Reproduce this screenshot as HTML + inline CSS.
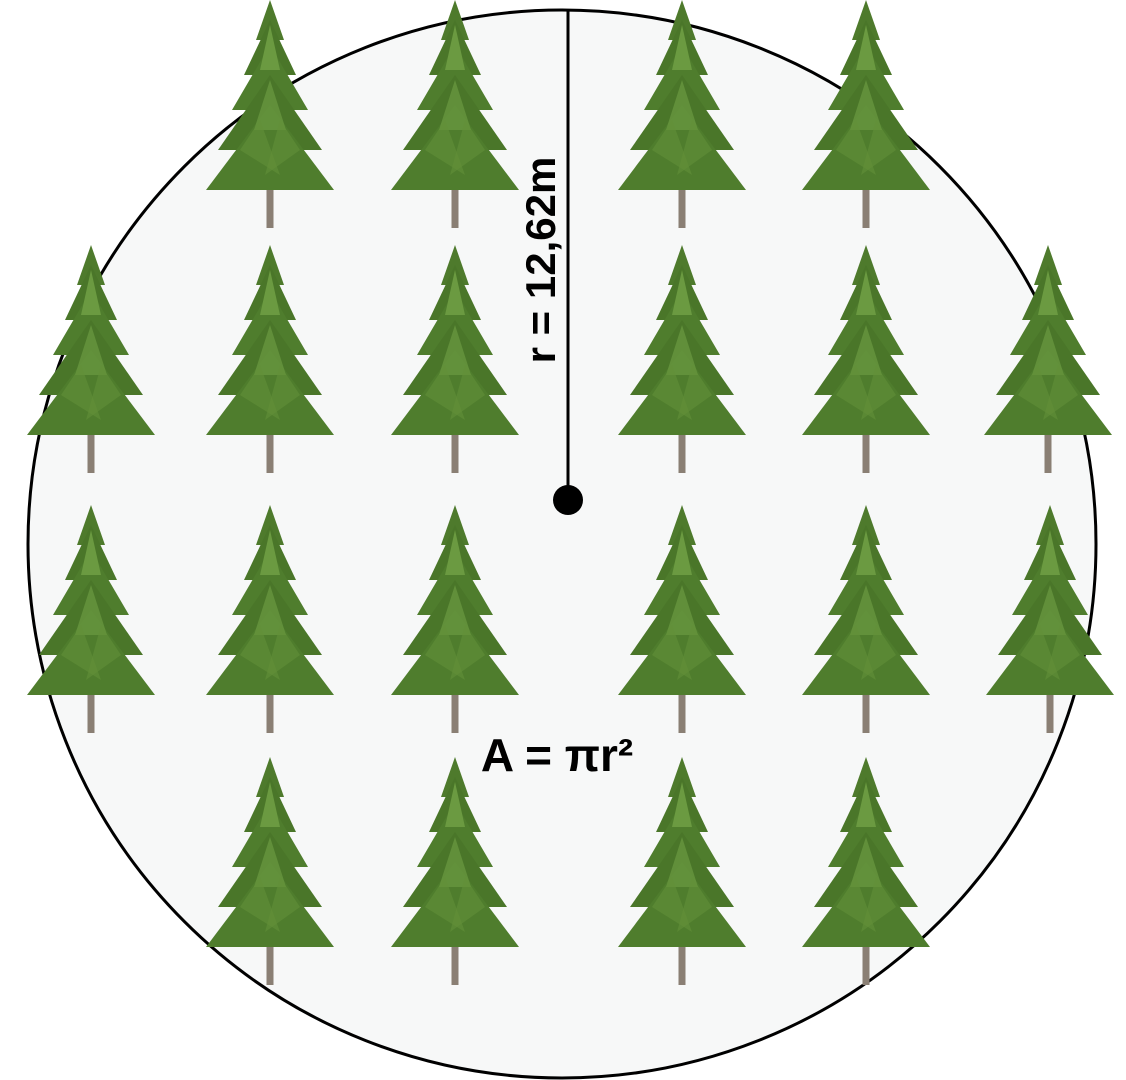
<!DOCTYPE html>
<html><head><meta charset="utf-8"><style>
html,body{margin:0;padding:0;background:#fff;width:1126px;height:1080px;overflow:hidden}
svg{display:block}
</style></head><body>
<svg id="s" width="1126" height="1080" viewBox="0 0 1126 1080">
<defs>
<g id="tree">
<rect x="-3.5" y="170" width="7" height="58" fill="#8a7f74"/>
<polygon points="0,0 -14,40 14,40" fill="#4e7a2c"/>
<polygon points="0,20 -26,75 26,75" fill="#4a7629"/>
<polygon points="0,45 -38,110 38,110" fill="#4f7d2d"/>
<polygon points="0,75 -52,150 52,150" fill="#4a7629"/>
<polygon points="0,105 -64,190 64,190" fill="#4f7d2d"/>
<polygon points="0,25 -10,70 10,70" fill="#6b9a41"/>
<polygon points="0,80 -16,130 16,130" fill="#6b9a41" opacity="0.7"/>
<polygon points="-30,150 -10,120 10,175" fill="#628f39" opacity="0.6"/>
<polygon points="30,150 10,120 -5,175" fill="#628f39" opacity="0.6"/>
</g>
</defs>
<circle cx="562" cy="544" r="534" fill="#f7f8f8" stroke="#000" stroke-width="3"/>
<g id="trees"></g>
<line x1="568" y1="10" x2="568" y2="500" stroke="#000" stroke-width="3"/>
<circle cx="568" cy="500" r="15" fill="#000"/>
<text transform="translate(555,260) rotate(-90)" text-anchor="middle" font-family="Liberation Sans, sans-serif" font-weight="bold" font-size="42" fill="#000">r = 12,62m</text>
<text x="557" y="771" text-anchor="middle" font-family="Liberation Sans, sans-serif" font-weight="bold" font-size="46" fill="#000">A = πr²</text>
</svg>
<script>
const rowTops=[0,245,505,757];
const rowCols=[[270,455,682,866],[91,270,455,682,866,1048],[91,270,455,682,866,1050],[270,455,682,866]];
const g=document.getElementById('trees');
rowTops.forEach((ty,ri)=>{
  rowCols[ri].forEach(cx=>{
    const u=document.createElementNS('http://www.w3.org/2000/svg','use');
    u.setAttribute('href','#tree');
    u.setAttribute('transform','translate('+cx+','+ty+')');
    
    
    g.appendChild(u);
  });
});
</script>
</body></html>
